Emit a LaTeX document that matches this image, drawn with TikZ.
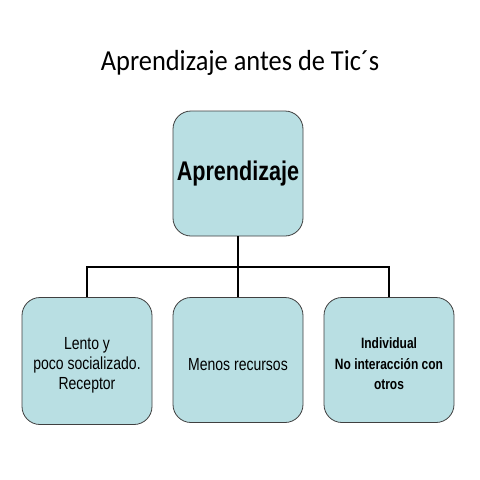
\documentclass[tikz,border=0pt]{standalone}
\usepackage{fontspec}
\setmainfont{Liberation Sans}
\newfontfamily\titlefont[FakeStretch=0.91]{Carlito}
\newfontfamily\narrowfont[FakeStretch=0.8]{Liberation Sans}
\newcommand{\pushdown}{\rule{0pt}{21pt}}
\begin{document}
\begin{tikzpicture}[x=1pt,y=-1pt,
  box/.style={draw=black!75, line width=0.8pt, fill=boxfill, rounded corners=18pt, minimum width=130pt, inner sep=0pt, align=center},
  conn/.style={draw=black, line width=1.6pt}]
\definecolor{boxfill}{HTML}{B9DFE3}
\useasboundingbox (0,0) rectangle (480,480);
\fill[white] (0,0) rectangle (480,480);
\node[font=\titlefont\fontsize{29}{34}\selectfont] (title) at (240,63) {Aprendizaje antes de Tic´s};
\node[box, minimum height=125pt, font=\narrowfont\bfseries\fontsize{27}{32}\selectfont] (top) at (238,173.5) {Aprendizaje};
\node[box, minimum height=127pt, font=\narrowfont\fontsize{17.5}{20}\selectfont] (a) at (87,361) {\pushdown Lento y\\ poco socializado.\\ Receptor};
\node[box, minimum height=125pt, font=\narrowfont\fontsize{17.5}{20}\selectfont] (b) at (238,360) {\pushdown Menos recursos};
\node[box, minimum height=125pt, font=\narrowfont\bfseries\fontsize{15}{20.5}\selectfont] (c) at (389,360) {\rule{0pt}{19pt}Individual\\ No interacción con\\ otros};
\coordinate (h) at (238,267);
\draw[conn] (top.south) -- (h);
\draw[conn] (a.north) |- (h) -| (c.north);
\draw[conn] (h) -- (b.north);
\end{tikzpicture}
\end{document}
